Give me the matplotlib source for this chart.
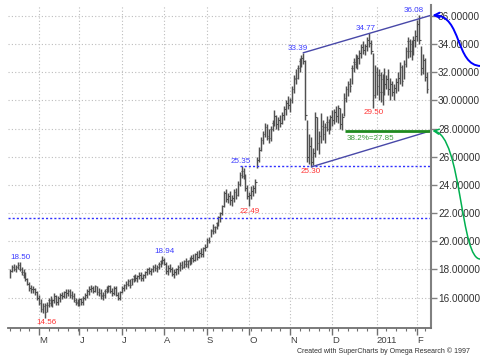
import pandas as pd
import matplotlib.pyplot as plt
from matplotlib.path import Path
from matplotlib.patches import FancyArrowPatch

plt.rcParams['font.family'] = ['Liberation Sans', 'DejaVu Sans']

# daily bars, Apr 2010 - Feb 2011
dates = pd.bdate_range('2010-04-12', '2011-02-08')

highs = [
    18.0, 18.3, 18.4, 18.3, 18.5, 18.5, 18.2, 18.0, 17.8, 17.4,
    17.1, 16.9, 16.8, 16.7, 16.5, 16.2, 15.9, 15.6, 15.6, 15.7,
    16.0, 16.1, 15.9, 16.3, 16.2, 16.1, 16.3, 16.4, 16.5, 16.6,
    16.6, 16.6, 16.5, 16.3, 16.0, 15.9, 16.0, 16.0, 16.1, 16.3,
    16.6, 16.8, 16.9, 16.8, 16.9, 16.8, 16.7, 16.6, 16.4, 16.6,
    16.8, 16.9, 16.9, 16.7, 16.8, 16.8, 16.4, 16.5, 16.8, 17.0,
    17.2, 17.3, 17.3, 17.4, 17.6, 17.7, 17.6, 17.8, 17.8, 17.7,
    17.9, 18.1, 18.2, 18.1, 18.3, 18.4, 18.3, 18.5, 18.7, 18.94,
    18.8, 18.5, 18.3, 18.4, 18.2, 18.0, 18.1, 18.3, 18.5, 18.6,
    18.7, 18.8, 18.7, 18.9, 19.0, 19.1, 19.2, 19.3, 19.4, 19.5,
    19.6, 19.8, 20.2, 20.3, 20.9, 21.2, 21.1, 21.4, 21.8, 22.1,
    22.6, 23.6, 23.7, 23.4, 23.6, 23.3, 23.7, 23.8, 24.3, 24.9,
    25.35, 25.2, 24.8, 24.0, 23.5, 23.9, 24.0, 24.4, 26.0, 26.7,
    27.4, 27.8, 28.4, 28.3, 28.0, 28.2, 28.6, 29.3, 29.0, 28.8,
    29.0, 29.2, 29.6, 30.0, 30.3, 30.2, 31.0, 31.8, 32.2, 32.5,
    33.0, 33.2, 33.39, 32.9, 28.6, 27.6, 27.4, 26.6, 29.2, 28.8,
    27.8, 29.1, 28.6, 28.4, 28.9, 28.7, 29.0, 29.3, 29.4, 29.6,
    29.7, 29.5, 29.1, 30.5, 31.0, 31.4, 31.6, 32.5, 33.0, 33.3,
    33.2, 33.6, 34.0, 34.2, 34.0, 34.5, 34.77, 34.3, 33.4, 32.5,
    32.4, 32.2, 32.0, 31.9, 32.3, 31.8, 32.2, 31.6, 31.4, 31.2,
    31.6, 32.0, 32.7, 32.5, 32.9, 33.8, 34.5, 34.4, 34.3, 34.6,
    35.0, 35.7, 36.08, 33.9, 33.3, 33.0, 32.0,
]
lows = [
    17.4, 17.8, 17.9, 17.8, 18.0, 17.9, 17.6, 17.4, 17.2, 16.9,
    16.5, 16.3, 16.3, 16.2, 15.8, 15.5, 15.0, 14.9, 14.56, 15.0,
    15.3, 15.4, 15.3, 15.6, 15.5, 15.5, 15.7, 15.9, 16.0, 16.0,
    16.1, 16.0, 15.9, 15.7, 15.5, 15.4, 15.4, 15.5, 15.5, 15.8,
    16.0, 16.2, 16.4, 16.3, 16.4, 16.2, 16.1, 15.9, 15.8, 16.0,
    16.3, 16.4, 16.3, 16.1, 16.2, 16.1, 15.8, 15.8, 16.3, 16.5,
    16.6, 16.8, 16.7, 16.9, 17.1, 17.2, 17.1, 17.3, 17.2, 17.2,
    17.4, 17.6, 17.7, 17.6, 17.8, 17.9, 17.8, 18.0, 18.2, 18.4,
    18.3, 17.7, 17.6, 17.8, 17.5, 17.4, 17.6, 17.7, 17.9, 18.0,
    18.1, 18.2, 18.1, 18.3, 18.4, 18.5, 18.6, 18.7, 18.8, 18.9,
    18.9, 19.3, 19.6, 19.9, 20.3, 20.5, 20.6, 20.9, 21.1, 21.4,
    21.9, 22.4, 22.8, 22.7, 22.6, 22.5, 22.8, 23.0, 23.2, 23.9,
    24.5, 24.4, 23.6, 23.0, 22.49, 23.0, 23.2, 23.4, 25.2, 25.6,
    26.4, 26.9, 27.4, 27.2, 27.0, 27.1, 27.8, 28.2, 28.0, 27.9,
    28.1, 28.3, 28.6, 29.0, 29.4, 29.2, 29.8, 30.5, 31.2, 31.5,
    32.0, 32.4, 32.6, 28.6, 25.6, 25.5, 25.3, 25.4, 26.0, 26.5,
    26.2, 27.0, 27.2, 27.0, 27.8, 27.6, 27.9, 28.2, 28.3, 28.5,
    28.4, 28.0, 27.9, 28.9, 29.9, 30.3, 30.6, 31.2, 32.0, 32.3,
    32.2, 32.6, 33.0, 33.3, 33.2, 33.5, 33.8, 33.3, 29.5, 30.2,
    30.4, 30.0, 29.9, 29.7, 30.4, 30.8, 30.4, 30.0, 30.3, 30.0,
    30.5, 30.7, 31.2, 31.0, 31.5, 32.4, 33.0, 33.1, 32.9, 33.2,
    33.8, 34.2, 34.0, 31.8, 31.9, 31.4, 30.5,
]
closes = [
    17.9, 18.2, 18.0, 18.2, 18.3, 18.0, 17.8, 17.6, 17.3, 17.0,
    16.7, 16.6, 16.6, 16.4, 16.0, 15.6, 15.2, 15.4, 15.0, 15.5,
    15.8, 15.6, 15.8, 16.1, 15.7, 16.0, 16.2, 16.1, 16.4, 16.3,
    16.5, 16.2, 16.1, 15.8, 15.7, 15.6, 15.9, 15.7, 16.0, 16.2,
    16.5, 16.6, 16.7, 16.5, 16.8, 16.4, 16.3, 16.1, 16.2, 16.5,
    16.6, 16.8, 16.5, 16.3, 16.7, 16.2, 16.0, 16.4, 16.7, 16.9,
    17.0, 17.2, 16.9, 17.3, 17.5, 17.4, 17.5, 17.6, 17.4, 17.6,
    17.8, 18.0, 17.9, 18.0, 18.2, 18.1, 18.2, 18.4, 18.6, 18.7,
    18.4, 17.9, 18.1, 18.0, 17.7, 17.8, 18.0, 18.2, 18.3, 18.2,
    18.6, 18.4, 18.6, 18.7, 18.8, 18.7, 19.1, 18.9, 19.2, 19.1,
    19.5, 19.6, 20.1, 20.0, 20.8, 20.7, 21.0, 21.3, 21.7, 22.0,
    22.5, 23.4, 23.0, 23.2, 22.9, 23.1, 23.5, 23.3, 24.1, 24.7,
    25.0, 24.6, 23.8, 23.2, 23.3, 23.6, 23.8, 24.2, 25.8, 26.5,
    27.2, 27.6, 28.1, 27.5, 27.3, 28.0, 28.4, 28.9, 28.3, 28.6,
    28.4, 29.0, 29.4, 29.8, 29.7, 30.0, 30.8, 31.5, 31.6, 32.3,
    32.8, 33.0, 32.8, 29.0, 26.0, 26.8, 25.6, 26.3, 28.8, 27.0,
    27.5, 28.2, 27.6, 28.1, 28.5, 28.0, 28.8, 28.6, 29.2, 28.9,
    29.5, 28.3, 28.8, 30.2, 30.8, 31.2, 31.0, 32.3, 32.7, 32.6,
    33.0, 33.4, 33.8, 33.6, 33.9, 34.3, 34.1, 33.5, 30.4, 32.0,
    31.0, 31.8, 30.6, 31.5, 31.2, 31.5, 30.8, 31.2, 30.6, 30.9,
    31.3, 31.6, 32.4, 31.4, 32.6, 33.5, 34.2, 33.5, 34.0, 34.3,
    34.6, 35.4, 34.3, 32.3, 32.9, 31.7, 30.8,
]

month_starts = ['2010-05-01', '2010-06-01', '2010-07-01', '2010-08-01', '2010-09-01',
                '2010-10-01', '2010-11-01', '2010-12-01', '2011-01-01', '2011-02-01']
month_labels = ['M', 'J', 'J', 'A', 'S', 'O', 'N', 'D', '2011', 'F']
price_ticks = [16, 18, 20, 22, 24, 26, 28, 30, 32, 34, 36]

# swing labels: (bar, price, text, high or low)
swings = [
    (5.5, 18.50, '18.50', 'hi'), (18.7, 14.56, '14.56', 'lo'),
    (80, 18.94, '18.94', 'hi'), (119.7, 25.35, '25.35', 'hi'),
    (124.4, 22.49, '22.49', 'lo'), (149, 33.39, '33.39', 'hi'),
    (156, 25.30, '25.30', 'lo'), (184, 34.77, '34.77', 'hi'),
    (188.6, 29.50, '29.50', 'lo'), (209.3, 36.08, '36.08', 'hi'),
]
fib_level = 27.85
support_level = 21.68
upper_channel = [(152, 33.39), (218.1, 36.05)]
lower_channel = [(156.5, 25.30), (218.1, 27.85)]

idx = list(range(len(dates)))
month_idx = [int(dates.searchsorted(pd.Timestamp(m))) for m in month_starts]
week_idx = [i for i, d in enumerate(dates) if d.dayofweek == 0]

fig = plt.figure(figsize=(4.8, 3.6), dpi=100)
ax = fig.add_axes([8.07 / 480, 1 - 328 / 360, 422.93 / 480, 323 / 360])

ax.grid(True, color='#bdbdbd', ls=(0, (1, 2)), lw=0.8)
ax.set_axisbelow(True)

# OHLC-style bars
ax.vlines(idx, lows, highs, color='#505050', lw=1.05)
ax.hlines(closes, [i - 0.1 for i in idx], [i + 0.8 for i in idx], color='#505050', lw=0.8)

# levels
ax.hlines(support_level, -1, 218.1, colors='#3030ff', linestyles=(0, (1.5, 1.5)), lw=1)
ax.hlines(25.35, 119, 218.1, colors='#3030ff', linestyles=(0, (1.5, 1.5)), lw=1)
ax.plot(*zip(*upper_channel), color='#4848a8', lw=1)
ax.plot(*zip(*lower_channel), color='#4848a8', lw=1)
ax.hlines(fib_level, 173.5, 218.1, colors='#1f8a1f', lw=2)
ax.text(187, 27.58, '38.2%=27.85', color='#3a9a3a', fontsize=5.8, ha='center', va='top')

for x, y, s, kind in swings:
    if kind == 'hi':
        ax.text(x, y + 0.08, s, color='#3a3aff', fontsize=5.8, ha='center', va='bottom')
    else:
        ax.text(x, y - 0.1, s, color='#ff3333', fontsize=5.8, ha='center', va='top')

# curved arrows into the right axis
codes = [Path.MOVETO, Path.CURVE4, Path.CURVE4, Path.CURVE4]
blue = FancyArrowPatch(path=Path([(244, 32.45), (230.6, 32.45), (234.2, 36.07), (218.8, 36.05)], codes),
                       arrowstyle='->', mutation_scale=9, color='#0000ff', lw=1.4)
green = FancyArrowPatch(path=Path([(244, 18.74), (233.2, 18.53), (234.2, 27.55), (218.8, 27.85)], codes),
                        arrowstyle='->', mutation_scale=9, color='#00b050', lw=1.1)
for p in (blue, green):
    ax.add_patch(p)
    p.set_clip_on(False)

ax.set_xlim(-1, 218.1)
ax.set_ylim(13.84, 36.78)

for side in ('top', 'left'):
    ax.spines[side].set_visible(False)
ax.spines['right'].set_color('#808080')
ax.spines['right'].set_linewidth(1.5)
ax.spines['bottom'].set_color('#707070')
ax.spines['bottom'].set_linewidth(1.3)

ax.yaxis.tick_right()
ax.set_yticks(price_ticks)
ax.set_yticklabels([f'{v:.5f}' for v in price_ticks])
ax.tick_params(axis='y', direction='out', length=4, width=1, color='#808080',
               labelsize=7.2, labelcolor='#303030', pad=1)

ax.set_xticks(month_idx)
ax.set_xticklabels(month_labels)
ax.set_xticks(week_idx, minor=True)
ax.tick_params(axis='x', which='major', direction='out', length=5, width=1, color='#707070',
               labelsize=6.8, labelcolor='#404040', pad=1)
ax.tick_params(axis='x', which='minor', direction='out', length=2.5, width=0.8, color='#707070')
for lab in ax.get_xticklabels():
    lab.set_ha('left')

fig.text(470 / 480, 1 - 355 / 360, 'Created with SuperCharts by Omega Research \u00a9 1997',
         fontsize=5.0, color='#303030', ha='right', va='bottom')

fig.savefig('out.png', dpi=100)
